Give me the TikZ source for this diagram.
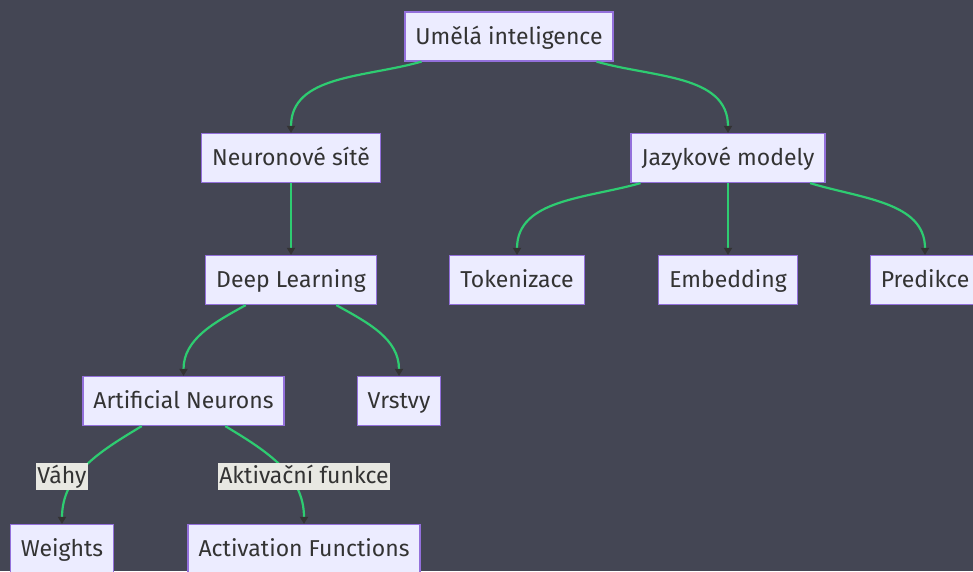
\documentclass[tikz,border=0pt]{standalone}
\usepackage{fontspec}
\setmainfont{Fira Sans}
\usetikzlibrary{arrows.meta}
\definecolor{bgdark}{RGB}{68,70,84}
\definecolor{nodefill}{HTML}{ECECFF}
\definecolor{nodeline}{HTML}{9370DB}
\definecolor{textgray}{HTML}{333333}
\definecolor{linkgreen}{HTML}{2ECC71}
\definecolor{labelbg}{RGB}{232,232,226}
\tikzset{
  box/.style={draw=nodeline, fill=nodefill, line width=1.2pt, text=textgray,
    minimum height=49pt, inner xsep=10.5pt, text height=18pt, text depth=3pt,
    font=\fontsize{23}{26}\selectfont},
  elabel/.style={fill=labelbg, text=textgray, inner xsep=1pt, inner ysep=0pt,
    minimum height=27pt, text height=18pt, text depth=3pt,
    font=\fontsize{23}{26}\selectfont},
  link/.style={draw=linkgreen, line width=2.2pt,
    -{Triangle[length=7pt,width=8pt,color=textgray]}},
}
\begin{document}
\begin{tikzpicture}[x=1pt,y=1pt]
  \fill[bgdark] (0,0) rectangle (973,-571);
  \useasboundingbox (0,0) rectangle (973,-571);
  % nodes
  \node[box] (ai) at (509,-36.5) {Umělá inteligence};
  \node[box] (ns) at (291,-158) {Neuronové sítě};
  \node[box] (jm) at (728,-158) {Jazykové modely};
  \node[box] (dl) at (291,-280) {Deep Learning};
  \node[box] (tok) at (517,-280) {Tokenizace};
  \node[box] (emb) at (728,-280) {Embedding};
  \node[box] (pred) at (925,-280) {Predikce};
  \node[box] (an) at (183.5,-401) {Artificial Neurons};
  \node[box] (vr) at (399,-401) {Vrstvy};
  \node[box] (w) at (62,-549) {Weights};
  \node[box] (af) at (304,-549) {Activation Functions};
  % links
  \draw[link] (ai) to[out=196,in=90] (ns);
  \draw[link] (ai) to[out=344,in=90] (jm);
  \draw[link] (ns) -- (dl);
  \draw[link] (jm) to[out=196,in=90] (tok);
  \draw[link] (jm) -- (emb);
  \draw[link] (jm) to[out=343,in=90] (pred);
  \draw[link] (dl) to[out=209,in=90] (an);
  \draw[link] (dl) to[out=331,in=90] (vr);
  \draw[link] (an) to[out=211,in=90] (w);
  \draw[link] (an) to[out=329,in=90] (af);
  % edge labels
  \node[elabel] (vahy) at (62,-476) {Váhy};
  \node[elabel] (akt) at (304,-476) {Aktivační funkce};
\end{tikzpicture}
\end{document}
